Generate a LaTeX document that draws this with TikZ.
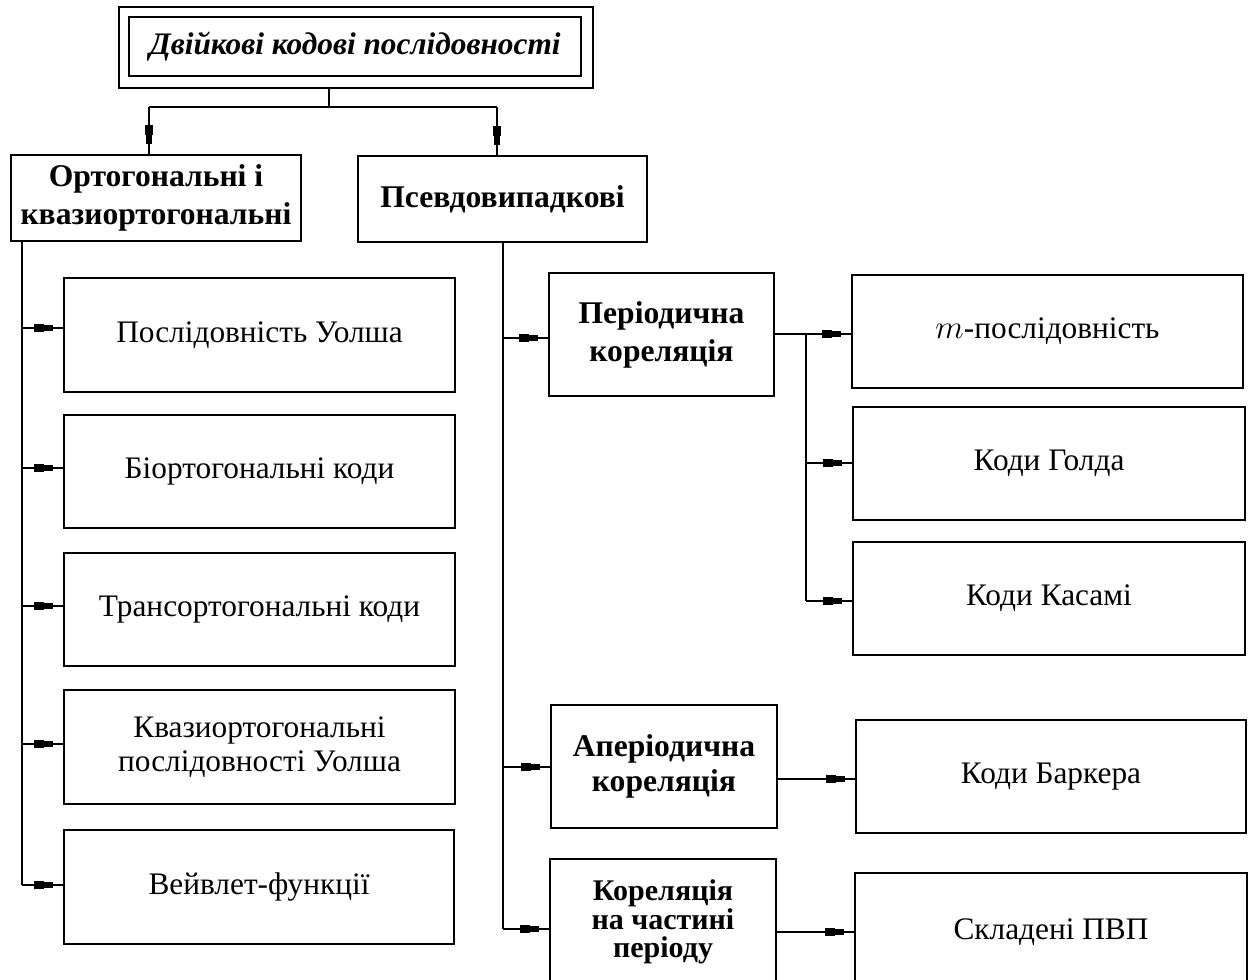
\documentclass[tikz,border=0pt]{standalone}
\usepackage{fontspec}
\setmainfont{Liberation Serif}
\usetikzlibrary{decorations.markings}
\tikzset{
  box/.style={draw, line width=1.1pt, inner sep=0pt, align=center,
    font=\fontsize{23.5pt}{26pt}\selectfont},
  bbox/.style={box, font=\bfseries\fontsize{23.7pt}{29pt}\selectfont},
  conn/.style={line width=1.1pt},
  tip/.style={conn, postaction={decorate}, decoration={markings,
    mark=at position -7.5pt with {\fill (-14.25pt,-3pt) rectangle (-6.75pt,3pt);
      \fill (-6.75pt,-1.9pt) rectangle (0pt,1.9pt);}}}
}
\newcommand\mybox[7][]{%
  \pgfmathsetmacro\cx{(#3+#5)/2}\pgfmathsetmacro\cy{(#4+#6)/2}%
  \pgfmathsetmacro\ww{(#5-#3)*0.75}\pgfmathsetmacro\hh{(#6-#4)*0.75}%
  \node[box, #1, minimum width=\ww pt, minimum height=\hh pt] (#2) at (\cx,\cy) {#7};}
\begin{document}
\begin{tikzpicture}[x=0.75pt,y=-0.75pt]
\useasboundingbox (0,0) rectangle (1253,980);
\clip (0,0) rectangle (1253,980);
% title
\mybox{titleo}{119}{7}{593}{88}{}
\mybox[font=\bfseries\itshape\fontsize{23.5pt}{26pt}\selectfont]{title}{129}{17}{581}{76}{Двійкові кодові послідовності}
% level 1
\mybox[bbox]{ort}{11}{155}{301}{241}{Ортогональні і\\квазиортогональні}
\mybox[bbox]{psv}{358}{156}{647}{242}{Псевдовипадкові}
% left column
\mybox{b1}{64}{278}{455}{392}{Послідовність Уолша}
\mybox{b2}{64}{415}{455}{528}{Біортогональні коди}
\mybox{b3}{64}{553}{455}{666}{Трансортогональні коди}
\mybox{b4}{64}{690}{455}{804}{Квазиортогональні\\послідовності Уолша}
\mybox{b5}{64}{830}{454}{944}{Вейвлет-функції}
% middle column
\mybox[bbox, font=\bfseries\fontsize{23.7pt}{28.5pt}\selectfont]{per}{549}{273}{774}{396}{Періодична\\кореляція}
\mybox[bbox, font=\bfseries\fontsize{23.7pt}{26pt}\selectfont]{aper}{551}{705}{777}{828}{Аперіодична\\кореляція}
\mybox[bbox, font=\bfseries\fontsize{22.5pt}{21.5pt}\selectfont]{kor}{550}{859}{776}{985}{Кореляція\\на частині\\періоду}
% right column
\mybox{m}{852}{275}{1243}{388}{$m$-послідовність}
\mybox{gold}{853}{407}{1245}{520}{Коди Голда}
\mybox{kas}{853}{542}{1245}{655}{Коди Касамі}
\mybox{bark}{856}{720}{1246}{833}{Коди Баркера}
\mybox{skl}{855}{873}{1247}{991}{Складені ПВП}
% top connectors
\coordinate (j0) at (329,107);
\coordinate (jl) at (149,107);
\coordinate (jr) at (497,107);
\draw[conn] (titleo.south -| j0) -- (j0);
\draw[conn] (jl) -- (jr);
\draw[tip] (jl) -- (jl |- ort.north);
\draw[tip] (jr) -- (jr |- psv.north);
% left trunk
\coordinate (l1) at (22,328);
\coordinate (l2) at (22,468);
\coordinate (l3) at (22,606);
\coordinate (l4) at (22,744);
\coordinate (l5) at (22,885);
\draw[conn] (ort.south -| l1) -- (l5);
\draw[tip] (l1) -- (l1 -| b1.west);
\draw[tip] (l2) -- (l2 -| b2.west);
\draw[tip] (l3) -- (l3 -| b3.west);
\draw[tip] (l4) -- (l4 -| b4.west);
\draw[tip] (l5) -- (l5 -| b5.west);
% right trunk
\coordinate (r1) at (503,338);
\coordinate (r2) at (503,767);
\coordinate (r3) at (503,929);
\draw[conn] (psv.south -| r1) -- (r3);
\draw[tip] (r1) -- (r1 -| per.west);
\draw[tip] (r2) -- (r2 -| aper.west);
\draw[tip] (r3) -- (r3 -| kor.west);
% periodic branch
\coordinate (p1) at (806,334);
\coordinate (p2) at (806,463);
\coordinate (p3) at (806,601);
\draw[conn] (p1 -| per.east) -- (p1);
\draw[conn] (p1) -- (p3);
\draw[tip] (p1) -- (p1 -| m.west);
\draw[tip] (p2) -- (p2 -| gold.west);
\draw[tip] (p3) -- (p3 -| kas.west);
% aperiodic and partial
\coordinate (a1) at (800,779);
\coordinate (k1) at (800,932);
\draw[tip] (a1 -| aper.east) -- (a1 -| bark.west);
\draw[tip] (k1 -| kor.east) -- (k1 -| skl.west);
\end{tikzpicture}
\end{document}
